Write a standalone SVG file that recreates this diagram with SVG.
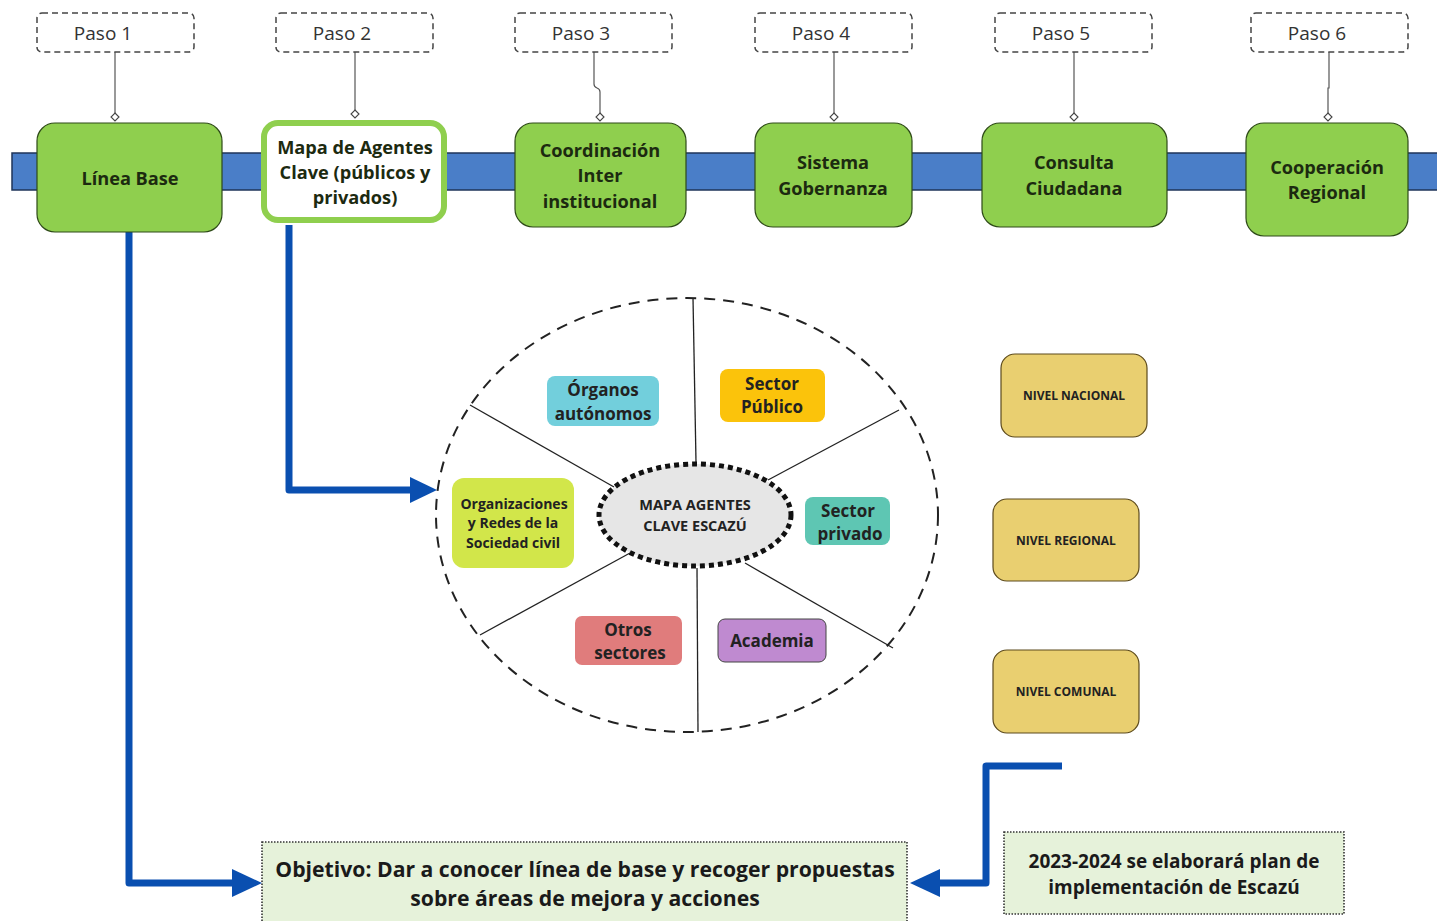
<svg xmlns="http://www.w3.org/2000/svg" width="1437" height="921" viewBox="0 0 1437 921">
<style>
text{font-family:"Open Sans","Noto Sans","Liberation Sans",sans-serif;text-anchor:middle;fill:#1c2a10}
.paso rect{fill:#fff;stroke:#444;stroke-width:1.5;stroke-dasharray:6,4}
.paso text{font-size:19px;fill:#333}
.step rect{fill:#8fcf4e;stroke:#2e4a18;stroke-width:1.2}
.step text{font-size:18.2px;font-weight:700;fill:#1c2a10}
.cat text{font-size:17px;font-weight:700;fill:#222}
.nivel rect{fill:#e9cf70;stroke:#5c4a1c;stroke-width:1.2}
.nivel text{font-size:12px;font-weight:700;fill:#222}
.thin{stroke:#555;stroke-width:1.2;fill:none}
.spoke{stroke:#222;stroke-width:1.3;fill:none}
.big{stroke:#0a4fb0;stroke-width:7;fill:none;stroke-linejoin:round}
.goal rect{fill:#e6f2da;stroke:#333;stroke-width:1.6;stroke-dasharray:1.5,1.5}
.goal text{font-weight:700;fill:#1a1a1a}
</style>
<rect width="1437" height="921" fill="#fff"/>

<!-- timeline band -->
<rect id="band" x="12" y="153" width="1430" height="37" fill="#4a7ec8" stroke="#1f3559" stroke-width="1.5"/>

<g id="connectors">
<path class="thin" d="M115 52 V114"/>
<path d="M115 113 l4 4 l-4 4 l-4 -4 Z" fill="#fff" stroke="#444" stroke-width="1.1"/>
<path class="thin" d="M355 52 V111"/>
<path d="M355 110 l4 4 l-4 4 l-4 -4 Z" fill="#fff" stroke="#444" stroke-width="1.1"/>
<path class="thin" d="M594 52 V84 Q594 87 597 88 Q600 89 600 92 V114"/>
<path d="M600 113 l4 4 l-4 4 l-4 -4 Z" fill="#fff" stroke="#444" stroke-width="1.1"/>
<path class="thin" d="M834 52 V114"/>
<path d="M834 113 l4 4 l-4 4 l-4 -4 Z" fill="#fff" stroke="#444" stroke-width="1.1"/>
<path class="thin" d="M1074 52 V114"/>
<path d="M1074 113 l4 4 l-4 4 l-4 -4 Z" fill="#fff" stroke="#444" stroke-width="1.1"/>
<path class="thin" d="M1329 52 V88 H1328 V114"/>
<path d="M1328 113 l4 4 l-4 4 l-4 -4 Z" fill="#fff" stroke="#444" stroke-width="1.1"/>

<!-- big blue arrows -->
<path class="big" d="M129 232 V883 H236"/>
<path d="M262 883 L232 869 V897 Z" fill="#0a4fb0"/>
<path class="big" d="M289 225 V490 H412"/>
<path d="M437 490 L410 477 V503 Z" fill="#0a4fb0"/>
<path class="big" d="M1062 766 H986 V883 H938"/>
<path d="M910 883 L940 869 V897 Z" fill="#0a4fb0"/>

<!-- spokes -->
<path class="spoke" d="M693 298 L696 462"/>
<path class="spoke" d="M470 405 L614 487"/>
<path class="spoke" d="M899 410 L768 480"/>
<path class="spoke" d="M480 635 L630 553"/>
<path class="spoke" d="M745 563 L893 648"/>
<path class="spoke" d="M697 568 L698 732"/>
</g>

<g id="paso1" class="paso"><rect x="37" y="13" width="157" height="39" rx="5"/><text x="103" y="40">Paso 1</text></g>
<g id="paso2" class="paso"><rect x="276" y="13" width="157" height="39" rx="5"/><text x="342" y="40">Paso 2</text></g>
<g id="paso3" class="paso"><rect x="515" y="13" width="157" height="39" rx="5"/><text x="581" y="40">Paso 3</text></g>
<g id="paso4" class="paso"><rect x="755" y="13" width="157" height="39" rx="5"/><text x="821" y="40">Paso 4</text></g>
<g id="paso5" class="paso"><rect x="995" y="13" width="157" height="39" rx="5"/><text x="1061" y="40">Paso 5</text></g>
<g id="paso6" class="paso"><rect x="1251" y="13" width="157" height="39" rx="5"/><text x="1317" y="40">Paso 6</text></g>

<g id="linea-base" class="step"><rect x="37" y="123" width="185" height="109" rx="18"/><text x="130" y="185">Línea Base</text></g>
<g id="mapa-agentes" class="step"><rect x="264" y="123" width="180" height="97" rx="14" style="fill:#fff;stroke:#8fcf4e;stroke-width:6"/>
<text x="355" y="154">Mapa de Agentes</text><text x="355" y="179">Clave (públicos y</text><text x="355" y="204">privados)</text></g>
<g id="coordinacion" class="step"><rect x="515" y="123" width="171" height="104" rx="18"/>
<text x="600" y="157">Coordinación</text><text x="600" y="182">Inter</text><text x="600" y="208">institucional</text></g>
<g id="sistema" class="step"><rect x="755" y="123" width="157" height="104" rx="18"/>
<text x="833" y="169">Sistema</text><text x="833" y="195">Gobernanza</text></g>
<g id="consulta" class="step"><rect x="982" y="123" width="185" height="104" rx="18"/>
<text x="1074" y="169">Consulta</text><text x="1074" y="195">Ciudadana</text></g>
<g id="cooperacion" class="step"><rect x="1246" y="123" width="162" height="113" rx="18"/>
<text x="1327" y="174">Cooperación</text><text x="1327" y="199">Regional</text></g>

<g id="mapa-circulo">
<ellipse cx="687" cy="515" rx="251" ry="217" fill="none" stroke="#222" stroke-width="2" stroke-dasharray="11,8"/>
</g>

<g id="centro">
<ellipse cx="695" cy="515" rx="96" ry="51" fill="#e6e6e6" stroke="#111" stroke-width="5" stroke-dasharray="5,4"/>
<text x="695" y="510" style="font-size:14.5px;font-weight:700;fill:#222">MAPA AGENTES</text>
<text x="695" y="531" style="font-size:14.5px;font-weight:700;fill:#222">CLAVE ESCAZÚ</text>
</g>

<g id="organos" class="cat"><rect x="547" y="376" width="112" height="50" rx="8" fill="#72cfdc"/>
<text x="603" y="396">Órganos</text><text x="603" y="420">autónomos</text></g>
<g id="sector-publico" class="cat"><rect x="720" y="369" width="105" height="53" rx="8" fill="#fbc30b"/>
<text x="772" y="390">Sector</text><text x="772" y="413">Público</text></g>
<g id="organizaciones" class="cat"><rect x="452" y="478" width="122" height="90" rx="12" fill="#d2e64a"/>
<text x="514" y="509" style="font-size:14px">Organizaciones</text><text x="513" y="528" style="font-size:14px">y Redes de la</text><text x="513" y="548" style="font-size:14px">Sociedad civil</text></g>
<g id="sector-privado" class="cat"><rect x="805" y="497" width="85" height="48" rx="8" fill="#5ec6b3"/>
<text x="848" y="517">Sector</text><text x="850" y="540">privado</text></g>
<g id="otros" class="cat"><rect x="575" y="616" width="107" height="49" rx="7" fill="#e07c7c"/>
<text x="628" y="636">Otros</text><text x="630" y="659">sectores</text></g>
<g id="academia" class="cat"><rect x="718" y="619" width="108" height="43" rx="7" fill="#bf8ad0" stroke="#444" stroke-width="1"/>
<text x="772" y="647">Academia</text></g>

<g id="nivel-nacional" class="nivel"><rect x="1001" y="354" width="146" height="83" rx="14"/><text x="1074" y="400">NIVEL NACIONAL</text></g>
<g id="nivel-regional" class="nivel"><rect x="993" y="499" width="146" height="82" rx="14"/><text x="1066" y="545">NIVEL REGIONAL</text></g>
<g id="nivel-comunal" class="nivel"><rect x="993" y="650" width="146" height="83" rx="14"/><text x="1066" y="696">NIVEL COMUNAL</text></g>

<g id="objetivo" class="goal"><rect x="262" y="842" width="645" height="80"/>
<text x="585" y="877" style="font-size:21.2px">Objetivo: Dar a conocer línea de base y recoger propuestas</text>
<text x="585" y="906" style="font-size:21.2px">sobre áreas de mejora y acciones</text></g>
<g id="plan" class="goal"><rect x="1004" y="832" width="340" height="82"/>
<text x="1174" y="868" style="font-size:19px">2023-2024 se elaborará plan de</text>
<text x="1174" y="894" style="font-size:19px">implementación de Escazú</text></g>
</svg>
